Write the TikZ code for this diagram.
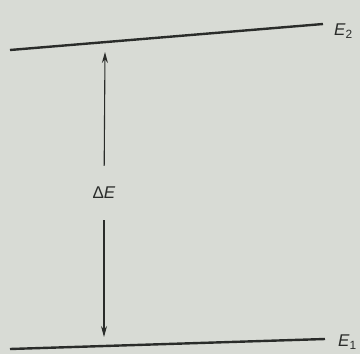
\documentclass[tikz,border=0pt]{standalone}
\usepackage{tikz}
\usepackage{fontspec}
\usetikzlibrary{arrows.meta}
\newfontfamily\lblfont{Liberation Sans}
\definecolor{paper}{RGB}{216,219,213}
\definecolor{ink}{RGB}{42,44,42}

\begin{document}
\begin{tikzpicture}[x=1pt,y=-1pt,
    level/.style={ink, line width=2.4pt},
    gap/.style={ink, line width=1.1pt, -{Stealth[length=11pt,width=6pt]}},
    lbl/.style={ink, font=\lblfont\fontsize{17}{20}\selectfont, inner sep=0pt}]
  % Paper
  \fill[paper] (0,0) rectangle (360,354);
  \useasboundingbox (0,0) rectangle (360,354);

  % Energy levels
  \coordinate (E2l) at (10,50);
  \coordinate (E2r) at (323,24);
  \coordinate (E1l) at (10,349);
  \coordinate (E1r) at (325,339);
  \draw[level] (E2l) -- (E2r);
  \draw[level] (E1l) -- (E1r);
  \node[lbl, anchor=west] (E2) at (334,31) {\textit{E}\textsubscript{2}};
  \node[lbl, anchor=west] (E1) at (338,342) {\textit{E}\textsubscript{1}};

  % Energy gap
  \coordinate (up) at (105,52);
  \coordinate (down) at (104,337);
  \node[lbl, inner ysep=21pt] (dE) at (104,193) {Δ\textit{E}};
  \draw[gap] (dE) -- (up);
  \draw[gap] (dE) -- (down);
\end{tikzpicture}
\end{document}
